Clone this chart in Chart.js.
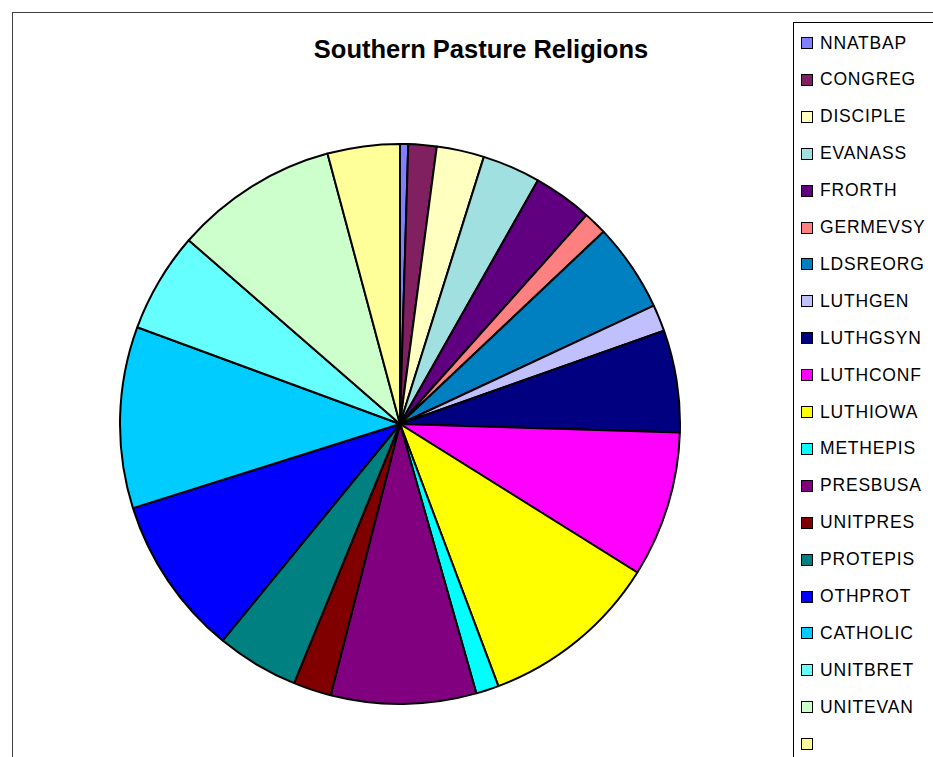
<!DOCTYPE html>
<html>
<head>
<meta charset="utf-8">
<script src="https://cdn.jsdelivr.net/npm/chart.js@4/dist/chart.umd.min.js"></script>
<style>
  html, body { margin: 0; padding: 0; background: #fff; overflow: hidden; width: 933px; height: 757px; }
  #frame { position: absolute; left: 12px; top: 12px; width: 960px; height: 800px; border: 1px solid #404040; box-sizing: border-box; }
  #title { position: absolute; left: 12px; width: 938px; top: 36px; text-align: center;
           font: bold 25.5px "Liberation Sans", Arial, sans-serif; line-height: 26px; color: #000; }
  #pie { position: absolute; left: 119px; top: 143px; }
  #legend { position: absolute; left: 793px; top: 22px; width: 200px; height: 800px; border: 1px solid #000; box-sizing: border-box; }
  .item { position: absolute; left: 0; height: 37px; white-space: nowrap;
          font: 17.5px "Liberation Sans", Arial, sans-serif; line-height: 37px; letter-spacing: 0.8px; color: #000; }
  .item span.box { position: absolute; left: 7px; top: 12.5px; width: 12px; height: 12px; border: 1.5px solid #000; box-sizing: border-box; }
  .item span.txt { position: absolute; left: 26px; top: 0; }
</style>
</head>
<body>
<div id="frame"></div>
<div id="title">Southern Pasture Religions</div>
<canvas id="pie" width="562" height="562"></canvas>
<div id="legend"></div>
<script>
// religions, in the order Excel draws them (clockwise from 12 o'clock)
const religions = ["NNATBAP", "CONGREG", "DISCIPLE", "EVANASS", "FRORTH", "GERMEVSY", "LDSREORG",
    "LUTHGEN", "LUTHGSYN", "LUTHCONF", "LUTHIOWA", "METHEPIS", "PRESBUSA", "UNITPRES",
    "PROTEPIS", "OTHPROT", "CATHOLIC", "UNITBRET", "UNITEVAN", ""];

// share of adherents, percent
const shares = [0.47, 1.63, 2.74, 3.36, 3.40, 1.35, 5.11, 1.53, 5.89, 8.42,
    10.39, 1.32, 8.38, 2.19, 4.75, 9.22, 10.47, 5.78, 9.44, 4.17];

const sliceColors = ["#8080FF", "#802060", "#FFFFC0", "#A0E0E0", "#600080", "#FF8080", "#0080C0",
    "#C0C0FF", "#000080", "#FF00FF", "#FFFF00", "#00FFFF", "#800080", "#800000",
    "#008080", "#0000FF", "#00CCFF", "#66FFFF", "#CCFFCC", "#FFFF99"];

const chart = new Chart(document.getElementById("pie"), {
    type: "pie",
    data: {
        labels: religions,
        datasets: [{
            data: shares,
            backgroundColor: sliceColors,
            borderColor: "#000",
            borderWidth: 2
        }]
    },
    options: {
        responsive: false,
        animation: false,
        devicePixelRatio: 1,
        layout: { padding: 0 },
        plugins: {
            legend: { display: false },
            title: { display: false },
            tooltip: { enabled: false }
        }
    }
});

// legend box on the right, built from the chart's own labels and colours
const legend = document.getElementById("legend");
chart.data.labels.forEach((label, i) => {
    const item = document.createElement("div");
    item.className = "item";
    item.style.top = (20 - 18.5 + i * 36.9) + "px";
    const box = document.createElement("span");
    box.className = "box";
    box.style.background = chart.data.datasets[0].backgroundColor[i];
    const txt = document.createElement("span");
    txt.className = "txt";
    txt.textContent = label;
    item.appendChild(box);
    item.appendChild(txt);
    legend.appendChild(item);
});
</script>
</body>
</html>
